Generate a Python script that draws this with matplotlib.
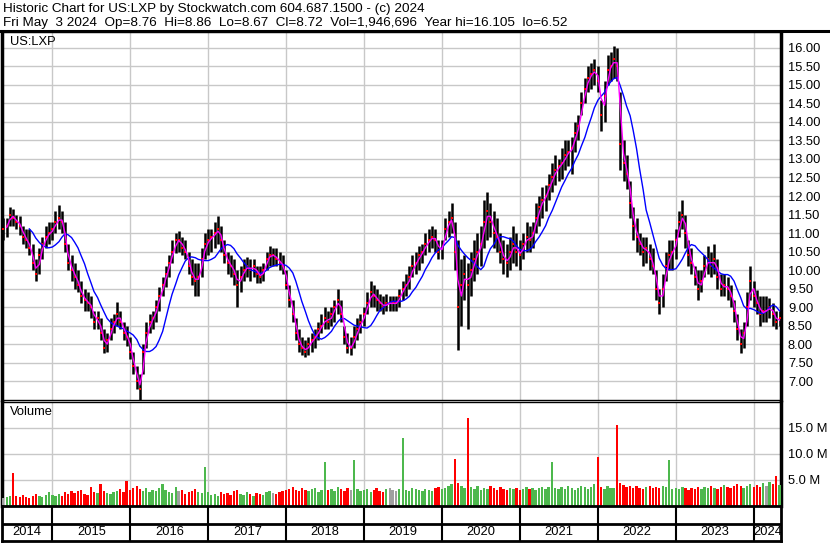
import matplotlib
matplotlib.use("Agg")
import matplotlib.pyplot as plt
from matplotlib.lines import Line2D
import numpy as np
import pandas as pd

plt.rcParams['font.family'] = ['Liberation Sans', 'DejaVu Sans']

# semi-monthly samples (price in $, volume in millions)
dates = pd.date_range("2014-05-15", periods=240, freq="SMS")

highs = [11.4,11.4,11.7,11.65,11.5,11.45,11.2,11.1,11.1,10.7,
         10.3,10.6,10.9,11.2,11.3,11.3,11.6,11.75,11.6,11.3,
         10.7,10.4,10.2,10.0,9.7,9.5,9.4,9.3,8.9,8.9,
         8.7,8.4,8.3,8.7,8.8,9.15,8.9,8.6,8.5,8.2,
         7.8,7.4,7.2,8.0,8.6,8.8,8.9,9.2,9.55,9.8,
         10.1,10.4,10.8,11.0,11.05,10.9,10.8,10.5,10.3,10.2,
         10.2,10.6,11.0,11.1,11.1,11.3,11.45,11.2,10.8,10.5,
         10.4,10.3,10.0,10.1,10.3,10.35,10.3,10.3,10.1,10.1,
         10.2,10.5,10.65,10.6,10.6,10.5,10.4,10.0,9.6,9.2,
         8.7,8.4,8.2,8.1,8.2,8.3,8.4,8.6,8.8,9.0,
         8.9,9.0,9.2,9.5,9.2,8.5,8.3,8.2,8.5,8.7,
         8.8,9.0,9.4,9.7,9.6,9.5,9.35,9.3,9.35,9.3,
         9.3,9.3,9.5,9.7,9.9,10.1,10.4,10.5,10.65,10.7,
         11.0,11.1,11.2,11.1,10.8,10.8,11.4,11.6,11.8,11.3,
         10.8,10.3,10.4,10.2,10.5,10.8,11.0,11.2,11.9,12.1,
         11.8,11.6,11.4,11.0,10.8,10.7,10.9,11.2,11.0,10.8,
         11.0,11.3,11.2,11.3,11.8,12.0,12.25,12.3,12.6,12.9,
         13.1,13.0,13.3,13.5,13.5,13.6,14.0,14.2,14.8,15.2,
         15.5,15.6,15.7,15.5,14.6,15.1,15.8,15.9,16.05,16.0,
         14.8,13.5,13.1,12.4,11.7,11.4,11.0,10.9,10.9,10.7,
         10.6,10.0,9.5,9.9,10.5,10.8,10.8,11.1,11.6,11.9,
         11.5,10.8,10.6,10.1,10.0,10.0,10.4,10.65,10.5,10.7,
         10.3,9.9,9.9,9.8,9.6,9.2,8.8,8.4,8.6,9.4,
         10.1,9.7,9.45,9.3,9.3,9.3,9.25,9.1,8.9,8.9]

lows = [10.8,10.9,11.2,11.2,11.1,10.95,10.7,10.6,10.4,10.0,
        9.7,9.9,10.3,10.6,10.7,10.8,11.0,11.1,11.0,10.5,
        10.0,9.7,9.5,9.4,9.1,8.9,8.9,8.7,8.4,8.4,
        8.1,7.75,7.8,8.1,8.3,8.5,8.4,8.1,7.95,7.6,
        7.2,6.8,6.5,7.2,7.9,8.3,8.4,8.6,8.9,9.3,
        9.55,9.8,10.2,10.45,10.5,10.4,10.3,9.9,9.6,9.3,
        9.3,9.8,10.3,10.4,10.5,10.6,10.7,10.5,10.2,9.9,
        9.8,9.6,9.0,9.4,9.7,9.8,9.7,9.8,9.65,9.65,
        9.7,10.0,10.1,10.1,10.1,10.0,9.9,9.5,9.0,8.6,
        8.1,7.8,7.7,7.65,7.7,7.8,7.9,8.1,8.3,8.4,
        8.4,8.5,8.6,8.8,8.6,8.0,7.75,7.7,7.9,8.1,
        8.3,8.5,8.8,9.0,9.0,8.9,8.9,8.8,8.9,8.9,
        8.9,8.9,9.0,9.2,9.3,9.5,9.8,9.9,10.0,10.2,
        10.4,10.5,10.6,10.5,10.3,10.3,10.8,10.9,11.0,10.0,
        7.85,8.5,9.2,8.4,9.3,9.7,9.9,10.1,10.6,10.8,
        10.9,10.6,10.5,10.2,9.9,9.8,10.0,10.2,10.1,10.0,
        10.3,10.5,10.5,10.6,11.0,11.2,11.4,11.6,11.9,12.1,
        12.3,12.4,12.45,12.7,12.8,12.6,13.2,13.5,14.2,14.5,
        14.8,14.9,15.0,14.8,13.75,14.0,15.0,15.1,15.2,15.1,
        12.7,12.4,12.2,11.4,10.8,10.5,10.4,10.1,10.2,10.0,
        9.9,9.2,8.8,9.0,9.7,10.0,10.0,10.3,10.9,11.1,
        10.6,10.1,9.9,9.6,9.2,9.4,9.8,9.9,9.8,9.9,
        9.5,9.3,9.3,9.2,9.0,8.6,8.1,7.75,7.9,8.5,
        9.2,9.0,8.8,8.5,8.6,8.6,8.7,8.5,8.4,8.5]

closes = [11.1,11.2,11.5,11.4,11.3,11.2,10.9,10.8,10.6,10.2,
          9.9,10.4,10.7,10.9,11.0,11.1,11.3,11.4,11.3,10.7,
          10.2,10.0,9.8,9.6,9.3,9.2,9.1,9.0,8.6,8.7,
          8.3,7.9,8.1,8.4,8.6,8.8,8.6,8.3,8.2,7.8,
          7.4,7.0,6.8,7.8,8.3,8.6,8.7,9.0,9.3,9.6,
          9.9,10.2,10.5,10.8,10.8,10.6,10.5,10.1,9.8,9.7,
          9.8,10.3,10.7,10.8,10.9,11.0,11.1,10.8,10.4,10.2,
          10.1,9.9,9.6,9.8,10.0,10.1,10.0,10.1,9.9,9.8,
          10.0,10.3,10.4,10.4,10.3,10.2,10.1,9.6,9.2,8.8,
          8.3,8.0,7.9,7.8,8.0,8.1,8.2,8.4,8.5,8.7,
          8.6,8.8,9.0,9.2,8.8,8.2,7.9,7.9,8.2,8.4,
          8.6,8.8,9.1,9.4,9.3,9.2,9.1,9.0,9.1,9.1,
          9.1,9.1,9.3,9.5,9.6,9.8,10.1,10.2,10.4,10.5,
          10.7,10.8,10.9,10.8,10.5,10.6,11.1,11.3,11.4,10.5,
          9.0,9.6,9.9,9.6,10.0,10.3,10.5,10.7,11.3,11.6,
          11.3,11.0,10.9,10.5,10.3,10.2,10.5,10.7,10.5,10.4,
          10.7,10.9,10.8,11.0,11.4,11.7,11.9,12.0,12.3,12.5,
          12.7,12.8,12.9,13.1,13.2,13.3,13.7,13.9,14.5,14.9,
          15.2,15.3,15.4,15.1,14.2,14.7,15.4,15.5,15.7,15.5,
          13.4,12.9,12.6,11.8,11.2,10.9,10.7,10.5,10.6,10.3,
          10.1,9.5,9.1,9.5,10.1,10.4,10.5,10.8,11.3,11.5,
          11.0,10.4,10.2,9.8,9.5,9.7,10.1,10.3,10.1,10.3,
          9.8,9.5,9.6,9.5,9.3,8.9,8.4,8.0,8.3,9.0,
          9.7,9.3,9.1,8.8,8.9,8.9,9.0,8.8,8.6,8.7]

volumes = [1.6,1.8,2.0,6.3,1.9,1.7,2.1,1.8,1.6,2.0,
           2.4,1.9,1.8,2.2,2.6,2.2,2.0,2.4,1.9,2.6,
           2.3,2.8,2.5,2.9,3.1,2.4,2.2,3.6,2.7,2.5,
           4.2,2.8,2.5,2.3,2.6,2.9,3.3,2.6,4.8,3.0,
           3.5,3.8,3.2,2.8,3.5,2.6,3.1,2.9,3.4,4.2,
           3.0,2.7,2.5,3.6,2.8,3.1,2.4,2.6,2.9,3.2,
           2.7,2.5,7.5,2.6,2.2,2.4,2.0,2.7,2.3,2.5,
           2.1,2.8,3.0,2.4,2.2,2.6,2.3,2.0,2.5,2.4,
           2.2,2.6,2.9,2.5,2.3,2.7,2.8,3.0,3.3,3.6,
           3.1,2.9,3.4,3.0,2.8,3.2,3.5,2.7,3.1,8.5,
           3.0,3.3,2.9,3.6,3.2,2.8,3.4,3.1,8.9,3.3,
           2.9,3.0,3.3,2.7,3.1,3.4,2.9,2.6,3.2,3.5,
           3.0,2.8,3.3,13.0,3.1,2.9,3.4,3.2,3.0,2.8,
           3.3,3.1,2.9,3.4,3.6,3.2,3.5,3.9,4.2,9.0,
           4.5,3.8,3.4,17.0,3.6,3.3,3.9,3.1,3.5,3.2,
           3.8,3.4,3.0,3.6,3.3,3.1,3.5,3.2,3.4,3.0,
           3.3,3.6,3.2,3.4,3.1,3.5,3.7,3.3,3.6,8.5,
           3.4,3.2,3.6,3.3,3.8,3.5,3.1,3.4,3.9,3.6,
           3.3,3.7,4.2,9.5,3.6,3.2,3.8,3.5,3.4,15.5,
           4.4,4.0,3.6,3.9,3.4,3.8,3.5,3.3,3.6,3.9,
           3.5,3.7,3.4,3.8,3.6,8.8,3.3,3.5,3.2,3.6,
           3.4,3.1,3.5,3.3,3.7,3.2,3.6,3.4,3.8,3.5,
           3.3,3.6,4.0,3.7,3.4,3.9,4.2,3.8,3.5,3.9,
           4.3,3.7,4.1,3.6,4.4,3.9,4.6,4.2,5.8,4.0]

years = list(range(2014, 2025))

ma_fast = pd.Series(closes).rolling(2).mean()
ma_slow = pd.Series(closes).rolling(9).mean()

W, H = 830, 543
fig = plt.figure(figsize=(W / 100, H / 100), dpi=100)
ax = fig.add_axes([2 / W, 143 / H, 779 / W, 368 / H])
axv = fig.add_axes([2 / W, 37 / H, 779 / W, 104 / H])
axx = fig.add_axes([2 / W, 2 / H, 779 / W, 35 / H])

x0, x1 = pd.Timestamp("2014-05-10"), pd.Timestamp("2024-05-08")
year_starts = [pd.Timestamp(f"{y}-01-01") for y in years[1:]]
grid_c = "#c8c8c8"
fs = 9.3

# price panel
ax.vlines(dates, lows, highs, color="black", lw=1.8, zorder=3)
ax.plot(dates, closes, ls="none", marker="s", ms=2.0, mew=0, color="#ff0000", zorder=3.5)
ax.plot(dates, ma_slow, color="#0000ff", lw=1.0, zorder=4)
ax.plot(dates, ma_fast, color="#ff00ff", lw=1.0, zorder=5)
ax.set_xlim(x0, x1)
ax.set_ylim(6.49, 16.43)
ax.set_yticks(np.arange(7, 16.01, 0.5))
ax.yaxis.set_major_formatter(matplotlib.ticker.FormatStrFormatter("%.2f"))
ax.text(8 / 779, 1 - 10 / 368, "US:LXP", transform=ax.transAxes,
        fontsize=fs, va="center", ha="left")

# volume panel
chg = np.diff(np.array(closes), prepend=closes[0])
vcols = ["#ff0000" if c < 0 else ("#4db84d" if c > 0 else "#a0a0a0") for c in chg]
axv.bar(dates, np.array(volumes) * 1e6, width=11, color=vcols, zorder=3)
axv.set_xlim(x0, x1)
axv.set_ylim(0, 20e6)
axv.set_yticks([5e6, 10e6, 15e6])
axv.set_yticklabels(["5.0 M", "10.0 M", "15.0 M"])
axv.text(8 / 779, 1 - 10 / 104, "Volume", transform=axv.transAxes,
         fontsize=fs, va="center", ha="left")

for a in (ax, axv):
    a.set_xticks(year_starts)
    a.tick_params(axis="x", length=0, labelbottom=False)
    a.yaxis.tick_right()
    a.tick_params(axis="y", length=0, pad=5, labelsize=fs)
    a.grid(True, color=grid_c, lw=1.0, zorder=0)
    for s in a.spines.values():
        s.set_linewidth(1.0)
    a.spines["left"].set_linewidth(2.5)
    a.spines["right"].set_linewidth(2.5)

# year band
axx.set_xlim(x0, x1)
axx.set_ylim(0, 2)
axx.axhline(1, color="black", lw=2)
for ys in year_starts:
    axx.axvline(ys, color="black", lw=1.5)
for y in years:
    a0 = max(pd.Timestamp(f"{y}-01-01"), x0)
    a1 = min(pd.Timestamp(f"{y + 1}-01-01"), x1)
    axx.text(a0 + (a1 - a0) / 2, 0.5, str(y), ha="center", va="center", fontsize=fs)
axx.set_xticks([])
axx.set_yticks([])
for s in axx.spines.values():
    s.set_linewidth(2)

fig.add_artist(Line2D([0, 1], [1 - 31 / H, 1 - 31 / H], color="black", lw=2.2))
fig.text(3 / W, 1 - 9 / H, "Historic Chart for US:LXP by Stockwatch.com 604.687.1500 - (c) 2024",
         fontsize=9.7, va="center", ha="left")
fig.text(3 / W, 1 - 23 / H,
         "Fri May  3 2024  Op=8.76  Hi=8.86  Lo=8.67  Cl=8.72  Vol=1,946,696  Year hi=16.105  lo=6.52",
         fontsize=9.7, va="center", ha="left")

fig.savefig("out.png", dpi=100)
